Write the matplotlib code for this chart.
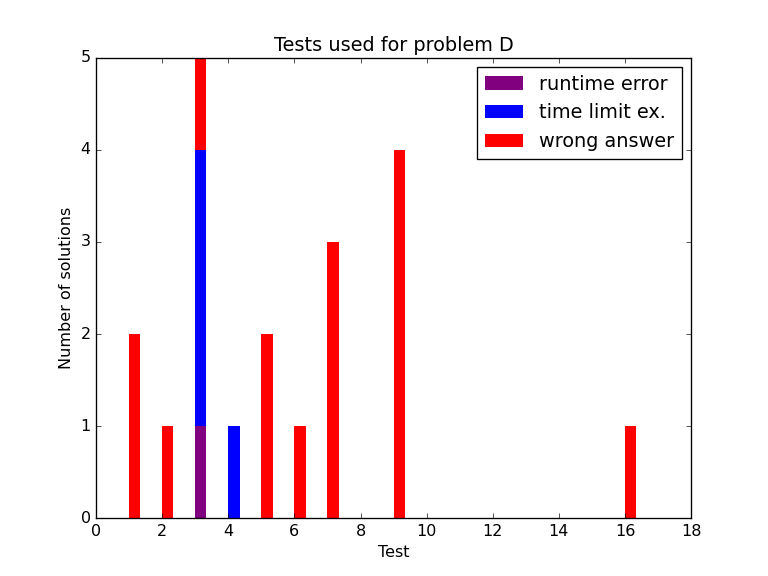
import matplotlib
matplotlib.use("Agg")
import matplotlib.pyplot as plt
import numpy as np

plt.style.use('classic')

tests = [1, 2, 3, 4, 5, 6, 7, 9, 16]
runtime_error = [0, 0, 1, 0, 0, 0, 0, 0, 0]
time_limit = [0, 0, 3, 1, 0, 0, 0, 0, 0]
wrong_answer = [2, 1, 1, 0, 2, 1, 3, 4, 1]

fig = plt.figure(figsize=(8, 6), dpi=96)
ax = fig.add_subplot(111)
w = 0.34
re = np.array(runtime_error)
tl = np.array(time_limit)
wa = np.array(wrong_answer)
ax.bar(tests, re, width=w, align='edge', color='purple', linewidth=0, label='runtime error')
ax.bar(tests, tl, width=w, bottom=re, align='edge', color='blue', linewidth=0, label='time limit ex.')
ax.bar(tests, wa, width=w, bottom=re + tl, align='edge', color='red', linewidth=0, label='wrong answer')
ax.set_xlim(0, 18)
ax.set_ylim(0, 5)
ax.set_xticks(range(0, 19, 2))
ax.set_yticks(range(0, 6))
ax.set_title('Tests used for problem D')
ax.set_xlabel('Test')
ax.set_ylabel('Number of solutions')
ax.legend(loc='upper right')
fig.savefig('out.png', dpi=96)
